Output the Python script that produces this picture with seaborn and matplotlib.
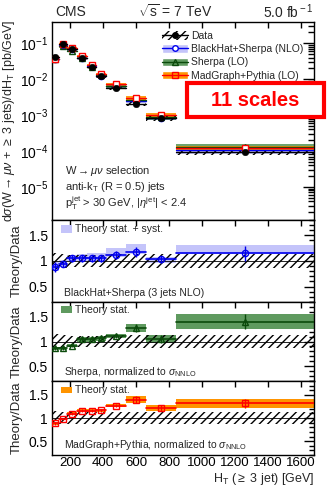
import numpy as np
import pandas as pd
import seaborn as sns
import matplotlib
matplotlib.use("Agg")
import matplotlib.pyplot as plt
from matplotlib.patches import Rectangle, Patch
from matplotlib.lines import Line2D
from matplotlib.ticker import MultipleLocator, LogLocator, NullFormatter, FixedLocator

sns.set_theme(style="white")
plt.rcParams['font.family'] = ['Liberation Sans', 'DejaVu Sans']
plt.rcParams['mathtext.fontset'] = 'custom'
plt.rcParams['mathtext.rm'] = 'Liberation Sans'
plt.rcParams['mathtext.it'] = 'Liberation Sans:italic'
plt.rcParams['hatch.linewidth'] = 1.0

# ---------------- data ----------------
bin_lo = [90, 130, 180, 240, 300, 360, 420, 540, 660, 840]
bin_hi = [130, 180, 240, 300, 360, 420, 540, 660, 840, 1680]
data_xsec = [0.041, 0.096, 0.067, 0.038, 0.0215, 0.012, 0.0056, 0.0021, 0.00082, 9.2e-5]
data_unc = [0.15, 0.13, 0.12, 0.12, 0.12, 0.12, 0.13, 0.14, 0.14, 0.14]

bh_ratio = [0.88, 0.94, 1.05, 1.05, 1.05, 1.05, 1.12, 1.18, 1.03, 1.15]
bh_err = [0.10, 0.06, 0.06, 0.06, 0.06, 0.06, 0.08, 0.10, 0.07, 0.15]
bh_band_lo = [0.80, 0.88, 1.00, 1.00, 1.00, 1.00, 1.07, 1.13, 0.97, 1.14]
bh_band_hi = [1.00, 1.02, 1.12, 1.14, 1.15, 1.15, 1.25, 1.33, 1.08, 1.32]

sh_ratio = [0.86, 0.86, 0.915, 1.045, 1.045, 1.065, 1.12, 1.27, 1.045, 1.40]
sh_err = [0.03, 0.03, 0.03, 0.045, 0.045, 0.045, 0.04, 0.075, 0.08, 0.15]

mg_ratio = [0.885, 0.98, 1.09, 1.16, 1.16, 1.17, 1.27, 1.40, 1.22, 1.32]
mg_err = [0.03, 0.03, 0.03, 0.03, 0.03, 0.03, 0.04, 0.07, 0.06, 0.095]

xticks = [200, 400, 600, 800, 1000, 1200, 1400, 1600]

df = pd.DataFrame({"lo": bin_lo, "hi": bin_hi, "xsec": data_xsec, "du": data_unc,
                   "bh": bh_ratio, "bhe": bh_err, "bhl": bh_band_lo, "bhh": bh_band_hi,
                   "sh": sh_ratio, "she": sh_err, "mg": mg_ratio, "mge": mg_err})
df["x"] = (df["lo"] + df["hi"]) / 2

C_BH_BAND, C_BH = "#c4c4fa", "#0000ee"
C_SH_BAND, C_SH = "#5f9a5f", "#0b4a0b"
C_MG_BAND, C_MG = "#ff9400", "#ff0000"

W, H = 329, 486
fig = plt.figure(figsize=(W / 100, H / 100), dpi=100)

def fr(l, t, r, b):
    return [l / W, 1 - b / H, (r - l) / W, (b - t) / H]

ax0 = fig.add_axes(fr(52, 22, 314, 220))
ax1 = fig.add_axes(fr(52, 220, 314, 302))
ax2 = fig.add_axes(fr(52, 302, 314, 381))
ax3 = fig.add_axes(fr(52, 381, 314, 455))

def style(ax):
    ax.set_facecolor("white")
    for s in ax.spines.values():
        s.set_color("black")
        s.set_linewidth(1.0)
    ax.tick_params(which="both", direction="in", top=True, right=True, colors="black",
                   labelsize=10, width=1.0, pad=3)
    ax.tick_params(axis="x", which="major", length=4)
    ax.tick_params(axis="y", which="major", length=7)
    ax.tick_params(axis="y", which="minor", length=3.5)
    ax.set_xlim(90, 1680)
    ax.xaxis.set_major_locator(FixedLocator(xticks))

def hatch_boxes(ax, lo_vals, hi_vals):
    for i, r in df.iterrows():
        ax.add_patch(Rectangle((r.lo, lo_vals[i]), r.hi - r.lo, hi_vals[i] - lo_vals[i],
                               facecolor="none", edgecolor="black", hatch="////",
                               linewidth=0, zorder=3))

# ---------------- main panel ----------------
ax0.set_yscale("log")
style(ax0)
ax0.set_ylim(1.2e-6, 0.39)
series = [("bh", "bhe", C_BH_BAND, C_BH, "o"), ("sh", "she", C_SH_BAND, C_SH, "^"),
          ("mg", "mge", C_MG_BAND, C_MG, "s")]
for key, ekey, cb, cl, mk in series:
    val = df["xsec"] * df[key]
    for i, r in df.iterrows():
        v = val[i]
        ax0.add_patch(Rectangle((r.lo, v * (1 - r[ekey] - 0.05)), r.hi - r.lo,
                                v * (2 * r[ekey] + 0.1), facecolor=cb, edgecolor="none",
                                alpha=0.9, zorder=2))
        ax0.plot([r.lo, r.hi], [v, v], color=cl, lw=1.0, zorder=4)
    ax0.errorbar(df["x"], val, yerr=val * df[ekey], fmt=mk, mfc="white" if mk != "^" else "none",
                 mec=cl, ecolor=cl, ms=4.5, mew=1.0, lw=1.0, zorder=5, capsize=0)
hatch_boxes(ax0, df["xsec"] * (1 - df["du"]), df["xsec"] * (1 + df["du"]))
for i, r in df.iterrows():
    ax0.plot([r.lo, r.hi], [r.xsec, r.xsec], color="black", lw=1.0, zorder=6)
sns.scatterplot(x=df["x"], y=df["xsec"], ax=ax0, color="black", s=22, marker="o",
                edgecolor="black", zorder=7, legend=False)
ax0.set_xlabel("")
ax0.set_ylabel(r"d$\sigma$(W$\rightarrow\mu\nu$ + $\geq$ 3 jets)/dH$_{\rm T}$ [pb/GeV]",
               fontsize=9, labelpad=2)
ax0.set_xticklabels([])
ax0.yaxis.set_minor_locator(LogLocator(base=10, subs=np.arange(2, 10), numticks=12))
ax0.yaxis.set_minor_formatter(NullFormatter())
ax0.set_yticks([1e-5, 1e-4, 1e-3, 1e-2, 1e-1])
ax0.tick_params(axis="y", which="major", length=8)
ax0.tick_params(axis="y", which="minor", length=4)

handles = [
    (Patch(facecolor="white", edgecolor="black", hatch="////", lw=0),
     Line2D([], [], color="black", marker="o", ms=4, lw=1)),
    (Patch(facecolor=C_BH_BAND), Line2D([], [], color=C_BH, marker="o", mfc="white", ms=4, lw=1)),
    (Patch(facecolor=C_SH_BAND), Line2D([], [], color=C_SH, marker="^", mfc="none", ms=4, lw=1)),
    (Patch(facecolor=C_MG_BAND), Line2D([], [], color=C_MG, marker="s", mfc="none", ms=4, lw=1)),
]
labels = ["Data", "BlackHat+Sherpa (NLO)", "Sherpa (LO)", "MadGraph+Pythia (LO)"]
ax0.legend(handles, labels, loc="upper right", bbox_to_anchor=(0.985, 0.985), frameon=False,
           fontsize=7.5, handlelength=2.5, handleheight=0.9, labelspacing=0.3,
           handletextpad=0.3, borderaxespad=0.2)

ax0.text(0.05, 0.232, r"W$\rightarrow\mu\nu$ selection", transform=ax0.transAxes,
         fontsize=8, va="baseline")
ax0.text(0.05, 0.153, r"anti-k$_{\rm T}$ (R = 0.5) jets", transform=ax0.transAxes,
         fontsize=8, va="baseline")
ax0.text(0.05, 0.068, r"p$_{\rm T}^{\rm jet}$ > 30 GeV, |$\eta^{\rm jet}$| < 2.4",
         transform=ax0.transAxes, fontsize=8, va="baseline")

fig.text(55 / W, 1 - 12 / H, "CMS", fontsize=10, va="center", ha="left")
fig.text(175 / W, 1 - 12 / H, r"$\sqrt{\rm s}$ = 7 TeV", fontsize=10, va="center", ha="center")
fig.text(314 / W, 1 - 12 / H, r"5.0 fb$^{\rm -1}$", fontsize=10, va="center", ha="right")

# ---------------- ratio panels ----------------
def ratio_panel(ax, key, ekey, cb, cl, mk, band_lo, band_hi, leg_txt, leg_y, bottom_txt, bot_y):
    style(ax)
    ax.set_ylim(0.2, 1.8)
    ax.yaxis.set_major_locator(FixedLocator([0.5, 1.0, 1.5]))
    ax.yaxis.set_minor_locator(MultipleLocator(0.1))
    ax.set_yticklabels(["0.5", "1", "1.5"])
    for i, r in df.iterrows():
        ax.add_patch(Rectangle((r.lo, band_lo[i]), r.hi - r.lo, band_hi[i] - band_lo[i],
                               facecolor=cb, edgecolor="none", zorder=2))
        ax.plot([r.lo, r.hi], [r[key], r[key]], color=cl, lw=1.2, zorder=5)
    ax.axhline(1.0, color="black", lw=0.6, zorder=3)
    hatch_boxes(ax, 1 - df["du"], 1 + df["du"])
    ax.errorbar(df["x"], df[key], yerr=df[ekey], fmt=mk, mfc="none", mec=cl, ecolor=cl,
                ms=4.5, mew=1.0, lw=1.0, zorder=6, capsize=0)
    ax.set_ylabel("Theory/Data", fontsize=9.5, labelpad=4)
    ax.add_patch(Rectangle((0.034, leg_y - 0.045), 0.044, 0.09, transform=ax.transAxes,
                           facecolor=cb, edgecolor="none", zorder=7))
    ax.text(0.087, leg_y, leg_txt, transform=ax.transAxes, fontsize=7.5, va="center", zorder=7)
    ax.text(0.045, bot_y, bottom_txt, transform=ax.transAxes, fontsize=7.5, va="center", zorder=7)

ratio_panel(ax1, "bh", "bhe", C_BH_BAND, C_BH, "o", df["bhl"], df["bhh"],
            "Theory stat. + syst.", 0.89, "BlackHat+Sherpa (3 jets NLO)", 0.11)
ax1.set_xticklabels([])
ratio_panel(ax2, "sh", "she", C_SH_BAND, C_SH, "^", df["sh"] - df["she"], df["sh"] + df["she"],
            "Theory stat.", 0.9, r"Sherpa, normalized to $\sigma_{\rm NNLO}$", 0.11)
ax2.set_xticklabels([])
ratio_panel(ax3, "mg", "mge", C_MG_BAND, C_MG, "s", df["mg"] - df["mge"], df["mg"] + df["mge"],
            "Theory stat.", 0.88, r"MadGraph+Pythia, normalized to $\sigma_{\rm NNLO}$", 0.14)
ax3.set_xticklabels([str(t) for t in xticks])
ax3.tick_params(axis="x", labelsize=9.5, pad=1.5)
fig.text(314 / W, 1 - 479 / H, r"H$_{\rm T}$ ($\geq$ 3 jet) [GeV]", fontsize=9,
         ha="right", va="center")

# ---------------- annotation box ----------------
fig.patches.append(Rectangle((187 / W, 1 - 117 / H), 137 / W, 34 / H, transform=fig.transFigure,
                             facecolor="white", edgecolor="#ff0000", lw=3, zorder=20))
fig.text(255 / W, 1 - 100 / H, "11 scales", color="#ff0000", fontsize=14.5, fontweight="bold",
         ha="center", va="center", zorder=21)

fig.savefig("out.png", dpi=100)
